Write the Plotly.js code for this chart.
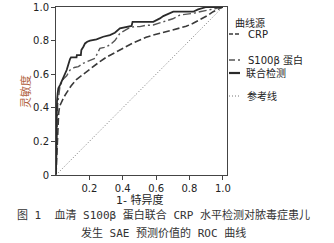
<!DOCTYPE html>
<html>
<head>
<meta charset="utf-8">
<script src="https://cdn.plot.ly/plotly-3.0.1.min.js"></script>
<style>html,body{margin:0;padding:0;background:#fff;}#chart{width:334px;height:243px;}</style>
</head>
<body>
<div id="chart"></div>
<script>
// ROC curve data
const crpX = [0,0.004,0.008,0.012,0.016,0.022,0.034,0.048,0.064,0.09,0.124,0.163,0.184,0.22,0.263,0.3,0.343,0.38,0.423,0.46,0.503,0.54,0.583,0.62,0.663,0.7,0.743,0.78,0.822,0.852,0.882,0.91,0.942,0.97,1.0];
const crpY = [0,0.1,0.2,0.3,0.37,0.41,0.436,0.465,0.49,0.53,0.57,0.6,0.615,0.645,0.675,0.70,0.724,0.745,0.764,0.785,0.804,0.82,0.833,0.843,0.853,0.862,0.873,0.885,0.903,0.918,0.933,0.95,0.972,0.988,1.0];

const s100X = [0,0.003,0.006,0.01,0.024,0.044,0.064,0.084,0.11,0.134,0.163,0.2,0.234,0.263,0.29,0.323,0.353,0.383,0.42,0.443,0.473,0.503,0.533,0.583,0.643,0.7,0.743,0.822,0.862,0.942,1.0];
const s100Y = [0,0.15,0.3,0.42,0.53,0.571,0.59,0.625,0.64,0.645,0.665,0.68,0.695,0.754,0.76,0.774,0.80,0.843,0.863,0.878,0.883,0.883,0.89,0.893,0.912,0.93,0.952,0.962,0.972,0.99,1.0];

const combX = [0,0.002,0.004,0.006,0.01,0.014,0.024,0.034,0.054,0.064,0.084,0.09,0.123,0.125,0.149,0.152,0.165,0.174,0.187,0.204,0.243,0.283,0.323,0.353,0.383,0.423,0.453,0.459,0.583,0.623,0.643,0.703,0.822,0.852,0.902,1.0];
const combY = [0,0.2,0.35,0.44,0.486,0.516,0.535,0.555,0.595,0.625,0.69,0.70,0.70,0.714,0.714,0.744,0.765,0.783,0.793,0.80,0.807,0.823,0.833,0.847,0.873,0.883,0.887,0.912,0.912,0.932,0.946,0.972,0.972,0.986,1.0,1.0];

const refX = [0,1];
const refY = [0,1];

const seriesNames = ['CRP','S100β 蛋白','联合检测','参考线'];
const legendTitle = '曲线源';
const xTickVals = [0.2,0.4,0.6,0.8,1.0];
const xTickText = ['0.2','0.4','0.6','0.8','1.0'];
const yTickVals = [0,0.2,0.4,0.6,0.8,1.0];
const yTickText = ['0','0.2','0.4','0.6','0.8','1.0'];
const xTitle = '1- 特异度';
const yTitle = '灵敏度';
const caption1 = '图 1  血清 S100β 蛋白联合 CRP 水平检测对脓毒症患儿';
const caption2 = '发生 SAE 预测价值的 ROC 曲线';

const FONT = 'DejaVu Sans, Noto Sans CJK SC, sans-serif';
const CAPFONT = 'DejaVu Sans Mono, Noto Sans CJK SC, monospace';

const styles = [
  {color:'#3a3a3a', width:1.6, dash:'7px,3px'},
  {color:'#555555', width:1.4, dash:'8px,3px,2px,3px'},
  {color:'#2a2a2a', width:1.8, dash:'solid'},
  {color:'#777777', width:1, dash:'1px,2px'}
];
const xs = [crpX, s100X, combX, refX];
const ys = [crpY, s100Y, combY, refY];

const traces = xs.map((x,i)=>({
  x:x, y:ys[i], type:'scatter', mode:'lines', name:seriesNames[i],
  line:{color:styles[i].color, width:styles[i].width, dash:styles[i].dash},
  showlegend:false, hoverinfo:'skip'
}));

// custom legend positions (pixels in the 334x243 frame)
const L = 56, PW = 171, T = 7, PH = 168;
const px = v => (v - L) / PW;
const py = v => (T + PH - v) / PH;
const legendRows = [34, 60, 73, 96];
const legendTextX = [247, 247, 245, 246];

const shapes = legendRows.map((r,i)=>({
  type:'line', xref:'paper', yref:'paper',
  x0:px(229), x1:px(240), y0:py(r), y1:py(r),
  line:{color:styles[i].color, width:styles[i].width + (i===2?0.4:0), dash: i===1 ? '6px,3px,2px,3px' : (i===0 ? '4px,2px' : styles[i].dash)}
}));

const annotations = [];
const ann = (text, x, y, opts) => Object.assign({text:text, xref:'paper', yref:'paper', x:px(x), y:py(y), xanchor:'left', yanchor:'middle', showarrow:false, borderpad:0, font:{family:FONT, size:10, color:'#222'}}, opts||{});
annotations.push(ann(legendTitle, 234, 23));
legendRows.forEach((r,i)=>annotations.push(ann(seriesNames[i], legendTextX[i], r)));
annotations.push(ann(xTitle, 139, 199.5, {xanchor:'center', font:{family:FONT, size:11, color:'#222'}}));
annotations.push(ann(yTitle, 26, 92, {xanchor:'center', textangle:-90, font:{family:FONT, size:11, color:'#b0603c'}}));
annotations.push(ann(caption1, 163, 215, {xanchor:'center', font:{family:CAPFONT, size:11, color:'#333'}}));
annotations.push(ann(caption2, 163.5, 233, {xanchor:'center', font:{family:CAPFONT, size:11, color:'#333'}}));

const layout = {
  width:334, height:243,
  margin:{l:56, r:107, t:7, b:68, pad:0},
  paper_bgcolor:'#fff', plot_bgcolor:'#fff',
  showlegend:false,
  xaxis:{
    range:[0,1.025], tickvals:xTickVals, ticktext:xTickText,
    ticks:'outside', ticklen:4, tickcolor:'#444', tickwidth:1,
    showgrid:false, zeroline:false, showline:true, linecolor:'#444', linewidth:1, mirror:true,
    tickfont:{family:FONT, size:10, color:'#222'}
  },
  yaxis:{
    range:[0,1], tickvals:yTickVals, ticktext:yTickText,
    ticks:'outside', ticklen:4, tickcolor:'#444', tickwidth:1,
    showgrid:false, zeroline:false, showline:true, linecolor:'#444', linewidth:1, mirror:true,
    tickfont:{family:FONT, size:10, color:'#222'}
  },
  shapes:shapes,
  annotations:annotations
};

Plotly.newPlot('chart', traces, layout, {staticPlot:true, displayModeBar:false});
</script>
</body>
</html>
